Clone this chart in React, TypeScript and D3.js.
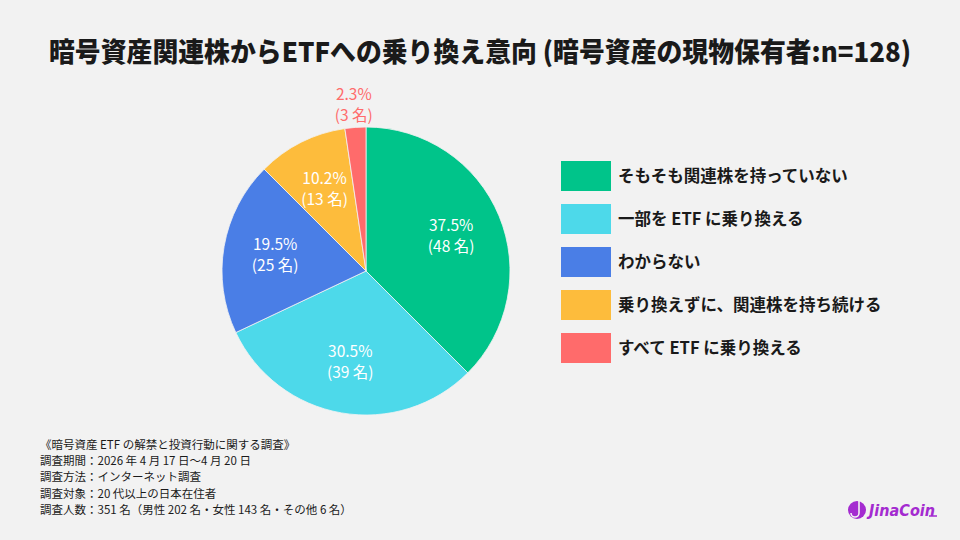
import * as d3 from 'd3';
import { useEffect, useRef } from 'react';

const title = '暗号資産関連株からETFへの乗り換え意向 (暗号資産の現物保有者:n=128)';
const categories = [
  'そもそも関連株を持っていない',
  '一部を ETF に乗り換える',
  'わからない',
  '乗り換えずに、関連株を持ち続ける',
  'すべて ETF に乗り換える',
];
const counts = [48, 39, 25, 13, 3];
const percents = ['37.5%', '30.5%', '19.5%', '10.2%', '2.3%'];
const colors = ['#00c48a', '#4dd9ea', '#4a7ee6', '#fdbc3c', '#ff6b6b'];
const notes = [
  '《暗号資産 ETF の解禁と投資行動に関する調査》',
  '調査期間：2026 年 4 月 17 日～4 月 20 日',
  '調査方法：インターネット調査',
  '調査対象：20 代以上の日本在住者',
  '調査人数：351 名（男性 202 名・女性 143 名・その他 6 名）',
];

const FONT = '"Noto Sans CJK JP", "Noto Sans", sans-serif';

export default function App() {
  const svgRef = useRef(null);

  useEffect(() => {
    const svgElement = svgRef.current;
    if (!svgElement) return;
    d3.select(svgElement).selectAll('*').remove();

    const width = 960;
    const height = 540;
    const svg = d3
      .select(svgElement)
      .attr('width', width)
      .attr('height', height)
      .style('font-family', FONT);

    svg.append('rect').attr('width', width).attr('height', height).attr('fill', '#f2f2f2');

    // Title
    svg
      .append('text')
      .attr('x', 480)
      .attr('y', 62)
      .attr('text-anchor', 'middle')
      .attr('font-size', 27)
      .attr('font-weight', 900)
      .attr('fill', '#1a1a1a')
      .attr('textLength', 862)
      .attr('lengthAdjust', 'spacingAndGlyphs')
      .text(title);

    // Pie
    const cx = 366;
    const cy = 271;
    const radius = 144;
    const data = categories.map((c, i) => ({ label: c, value: counts[i], pct: percents[i], color: colors[i] }));
    const pie = d3.pie<any>().value((d) => d.value).sort(null);
    const arc = d3.arc<any>().innerRadius(0).outerRadius(radius);
    const labelArc = d3.arc<any>().innerRadius(radius * 0.64).outerRadius(radius * 0.64);
    const outerArc = d3.arc<any>().innerRadius(radius + 22).outerRadius(radius + 22);
    const arcs = pie(data);
    const isSmall = (d: any) => d.endAngle - d.startAngle < 0.2;

    const g = svg.append('g').attr('transform', `translate(${cx},${cy})`);
    g.selectAll('path')
      .data(arcs)
      .join('path')
      .attr('d', arc)
      .attr('fill', (d) => d.data.color)
      .attr('stroke', '#f2f2f2')
      .attr('stroke-width', 0.8);

    const labels = g
      .selectAll('g.label')
      .data(arcs)
      .join('g')
      .attr('class', 'label')
      .attr('transform', (d) => {
        const [x, y] = isSmall(d) ? outerArc.centroid(d) : labelArc.centroid(d);
        return `translate(${x},${y})`;
      });

    // two-line label: percentage, then head count
    labels
      .append('text')
      .attr('text-anchor', 'middle')
      .attr('font-size', 15.5)
      .attr('fill', (d) => (isSmall(d) ? d.data.color : '#ffffff'))
      .selectAll('tspan')
      .data((d) => [d.data.pct, `(${d.data.value} 名)`])
      .join('tspan')
      .attr('x', 0)
      .attr('y', (_, i) => (i === 0 ? -5 : 16))
      .text((t) => t);

    // Legend
    const legend = svg
      .append('g')
      .selectAll('g')
      .data(data)
      .join('g')
      .attr('transform', (_, i) => `translate(561,${161 + i * 43})`);
    legend.append('rect').attr('width', 50).attr('height', 30).attr('fill', (d) => d.color);
    legend
      .append('text')
      .attr('x', 57)
      .attr('y', 21)
      .attr('font-size', 16.5)
      .attr('font-weight', 700)
      .attr('fill', '#1a1a1a')
      .text((d) => d.label);

    // Survey notes
    svg
      .append('g')
      .selectAll('text')
      .data(notes)
      .join('text')
      .attr('x', 40)
      .attr('y', (_, i) => 449 + i * 16.2)
      .attr('font-size', 11.5)
      .attr('fill', '#1a1a1a')
      .text((t) => t);

    // Logo
    const logo = svg.append('g').attr('transform', 'translate(857,510)');
    logo.append('circle').attr('r', 9).attr('fill', '#a42bd0');
    logo
      .append('path')
      .attr('d', 'M2,-9 L2,3 A4,4 0 0 1 -6,3')
      .attr('fill', 'none')
      .attr('stroke', '#f2f2f2')
      .attr('stroke-width', 1.6);
    logo
      .append('text')
      .attr('x', 12)
      .attr('y', 6)
      .attr('font-family', '"DejaVu Sans", sans-serif')
      .attr('font-size', 16)
      .attr('font-weight', 700)
      .attr('font-style', 'italic')
      .attr('fill', '#a42bd0')
      .attr('textLength', 66)
      .attr('lengthAdjust', 'spacingAndGlyphs')
      .text('JinaCoin');
    logo.append('line').attr('x1', 72).attr('x2', 80).attr('y1', 6).attr('y2', 6).attr('stroke', '#a42bd0').attr('stroke-width', 1.5);
  }, []);

  return <svg ref={svgRef} style={{ position: 'absolute', left: 0, top: 0 }} />;
}
